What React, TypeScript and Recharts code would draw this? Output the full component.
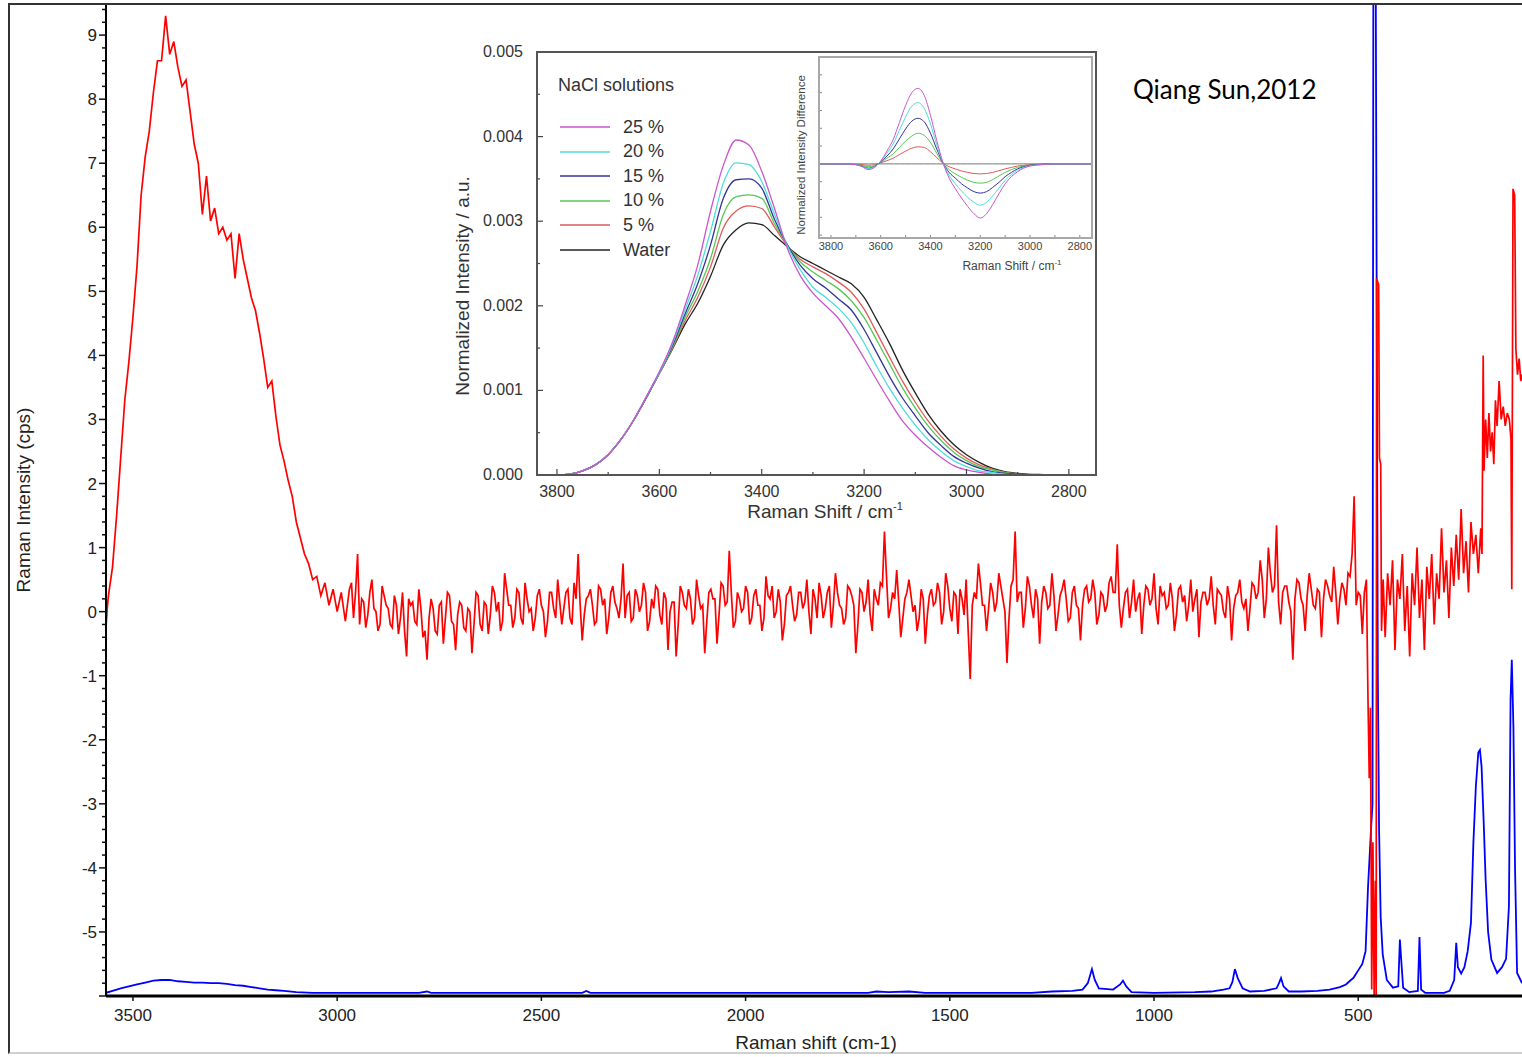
import React from 'react'
import { LineChart, Line, XAxis, YAxis, Legend, Label } from 'recharts'

const FONT = "'Liberation Sans', Arial, Helvetica, sans-serif"

// ---------------- main spectrum ----------------
// red trace, read every 10 cm-1 from 3560 down to 480
const redStart = 3560
const redStep = 10
const redValues = [
  0.25, 0.7, 1.5, 2.4, 3.3, 3.9, 4.6, 5.4, 6.5, 7.1,
  7.5, 8.1, 8.6, 8.6, 9.3, 8.7, 8.9, 8.5, 8.2, 8.3,
  7.8, 7.3, 7.0, 6.2, 6.8, 6.1, 6.3, 5.9, 6.0, 5.8,
  5.9, 5.2, 5.9, 5.5, 5.2, 4.9, 4.7, 4.35, 3.95, 3.5,
  3.6, 3.05, 2.6, 2.35, 2.05, 1.8, 1.4, 1.15, 0.9, 0.75,
  0.5, 0.55, 0.25, 0.45, 0.1, 0.35, 0.0, 0.3, -0.15,
  // 2970 .. 2880
  0.35, -0.1, 0.9, 0.2, -0.25, 0.3, 0.05, -0.3, 0.4, 0.1,
  -0.2, 0.25, -0.35, 0.3, -0.7, 0.1, -0.15, 0.35, -0.4, -0.75,
  0.2, -0.3, 0.1, -0.5, 0.3, -0.15, -0.6, 0.15, -0.25, 0.05,
  -0.65, 0.3, -0.2, 0.15, -0.35, 0.4, 0.0, -0.3, 0.6, 0.1,
  -0.25, 0.35, -0.1, 0.45, 0.0, -0.3, 0.25, 0.1, -0.4, 0.3,
  0.05, 0.5, -0.2, 0.3, -0.1, 0.45, 0.9, -0.45, 0.2, 0.35,
  -0.2, 0.4, 0.1, -0.35, 0.3, 0.15, -0.1, 0.75, 0.25, -0.15,
  0.35, 0.0, 0.45, -0.3, 0.2, 0.4, -0.05, 0.3, -0.6, 0.15,
  -0.7, 0.4, 0.1, 0.35, -0.2, 0.5, 0.05, -0.65, 0.3, 0.2,
  -0.5, 0.45, 0.1, 0.95, -0.25, 0.3, 0.0, 0.4, -0.2, 0.25,
  0.1, -0.3, 0.55, 0.2, -0.1, 0.35, -0.45, 0.25, 0.4, -0.15,
  0.3, 0.05, 0.5, -0.35, 0.2, 0.45, -0.1, 0.3, -0.25, 0.6,
  0.1, -0.2, 0.4, 0.25, -0.65, 0.35, 0.0, 0.5, -0.3, 0.2,
  0.45, 1.25, -0.1, 0.3, 0.65, -0.4, 0.2, 0.5, 0.0, -0.3,
  0.35, -0.5, 0.25, 0.1, 0.45, -0.2, 0.6, 0.05, 0.3, -0.35,
  0.2, 0.5, -1.05, 0.3, 0.75, 0.1, -0.3, 0.45, 0.0, 0.6,
  0.2, -0.8, 0.4, 1.25, 0.3, -0.25, 0.55, 0.1, 0.35, -0.5,
  0.4, 0.05, 0.6, -0.3, 0.25, 0.5, -0.15, 0.3, 0.1, -0.45,
  0.35, 0.15, 0.5, -0.2, 0.3, 0.0, 0.45, 0.3, 1.05, -0.25,
  0.3, -0.1, 0.5, 0.2, -0.35, 0.4, 0.1, 0.6, -0.2, 0.25,
  0.05, 0.45, -0.3, 0.35, 0.15, -0.15, 0.5, 0.2, -0.4, 0.3,
  0.1, 0.55, -0.2, 0.3, 0.0, 0.4, -0.45, 0.25, 0.5, 0.05,
  -0.3, 0.45, 0.2, 0.8, -0.1, 1.0, 0.3, 1.35, -0.2, 0.4,
  0.15, -0.75, 0.5, 0.2, -0.3, 0.6, 0.1, 0.35, -0.4, 0.5,
  0.25, 0.7, -0.2, 0.45, 0.1, 0.55, 1.8, 0.3, -0.35, 0.5,
]
// red trace in the flat part, read at the half steps 2975, 2965 .. 485
const redMidStart = 2975
const redMidValues = [
  0.1, 0.45, 0.3, -0.2, 0.15, -0.05, 0.5, 0.0, -0.2, 0.25,
  0.05, -0.25, 0.1, -0.1, -0.3, 0.2, 0.15, -0.2, 0.05, -0.3,
  -0.1, 0.05, -0.35, 0.15, -0.1, 0.25, -0.2, -0.05, 0.1, -0.3,
  0.0, -0.2, 0.25, -0.3, 0.1, -0.05, 0.3, 0.15, -0.15, 0.35,
  0.1, -0.1, 0.3, -0.2, 0.2, 0.05, -0.1, 0.35, 0.0, -0.15,
  0.3, -0.1, 0.15, 0.05, 0.35, -0.2, 0.2, 0.1, -0.05, 0.25,
  0.1, -0.15, 0.35, 0.2, -0.1, 0.4, 0.05, 0.2, -0.1, 0.3,
  -0.1, 0.25, 0.1, 0.3, -0.15, 0.05, 0.35, -0.2, 0.2, 0.0,
  0.15, -0.2, 0.3, 0.05, 0.2, -0.1, 0.25, 0.1, -0.15, 0.35,
  0.2, -0.05, 0.4, 0.15, 0.3, -0.15, 0.2, 0.05, 0.3, -0.1,
  0.35, 0.1, -0.1, 0.25, 0.4, 0.0, 0.15, -0.2, 0.3, 0.1,
  -0.05, 0.3, 0.15, 0.0, 0.35, -0.1, 0.25, 0.05, 0.4, 0.1,
  0.3, 0.05, -0.1, 0.35, 0.1, -0.2, 0.3, 0.15, -0.05, 0.35,
  0.1, 0.4, 0.55, 0.05, 0.2, 0.15, -0.1, 0.3, 0.25, 0.1,
  -0.1, 0.2, -0.05, 0.35, 0.15, 0.3, 0.0, 0.4, -0.15, 0.25,
  0.35, -0.05, -0.3, 0.1, 0.2, 0.45, 0.1, 0.05, 0.3, 0.15,
  0.4, 0.0, -0.1, 0.5, 0.15, 0.3, 0.05, 0.4, -0.1, 0.2,
  0.15, 0.3, 0.1, 0.25, -0.05, 0.35, 0.2, -0.1, 0.4, 0.05,
  0.1, 0.4, 0.2, 0.3, -0.05, 0.25, 0.1, 0.55, 0.3, 0.1,
  0.05, 0.35, 0.15, 0.0, 0.3, 0.1, 0.35, 0.2, 0.05, 0.4,
  0.3, 0.1, 0.2, -0.05, 0.4, 0.25, 0.1, 0.0, 0.35, 0.15,
  0.3, 0.2, 0.1, 0.35, 0.25, -0.1, 0.2, 0.05, 0.3, 0.15,
  0.2, 0.05, 0.4, 0.3, 0.5, 0.2, 0.6, 0.4, 0.15, 0.3,
  0.4, 0.0, 0.2, 0.45, 0.1, 0.25, 0.35, 0.05, 0.3, 0.2,
  0.4, 0.15, 0.3, 0.2, 0.35, 0.6, 0.9, 0.1, 0.25, 0.3,
]
const redEdge: [number, number][] = [[3566, -0.25], [3563, 0.05]]
// below 480 cm-1 the trace was read point by point
const redTail: [number, number][] = [
  [476, -1.4], [473, -2.6], [470, -1.5], [467, -5.9], [464, -3.6], [461, -6.0], [458, -4.2], [456, -6.0],
  [455, 5.2], [450, 5.1], [448, 2.4], [445, 2.3], [443, -0.3], [439, 0.5], [434, -0.4], [428, 0.6],
  [422, 0.1], [416, 0.8], [410, -0.6], [404, 0.5], [398, 0.2], [392, 0.9], [386, -0.3], [380, 0.4],
  [374, -0.7], [368, 0.6], [362, 0.1], [356, 1.0], [350, -0.1], [344, 0.5], [338, -0.6], [332, 0.7],
  [326, 0.2], [320, 0.9], [314, -0.2], [308, 0.6], [302, 0.2], [296, 1.3], [290, 0.3], [284, 0.8],
  [278, -0.1], [272, 1.0], [266, 0.4], [260, 1.2], [254, 0.5], [248, 1.6], [242, 0.6], [236, 1.1],
  [230, 0.3], [224, 1.4], [218, 0.9], [212, 1.2], [206, 0.6], [200, 1.3], [197, 0.9], [194, 4.0],
  [192, 2.2], [188, 3.0], [184, 2.4], [180, 3.1], [176, 2.5], [172, 2.8], [168, 2.3], [164, 3.3],
  [160, 2.9], [155, 3.6], [150, 3.0], [145, 3.2], [140, 2.9], [135, 3.1], [130, 3.0], [126, 2.7],
  [124, 0.35], [121, 6.6], [117, 6.5], [114, 4.1], [110, 3.7], [106, 3.95], [102, 3.6], [99, 3.7],
]

const blueTrace: [number, number][] = [
  [3566, -5.95], [3550, -5.92], [3530, -5.88], [3510, -5.85], [3490, -5.82], [3470, -5.79], [3450, -5.76],
  [3430, -5.75], [3410, -5.75], [3390, -5.77], [3370, -5.78], [3350, -5.79], [3330, -5.79], [3310, -5.8],
  [3290, -5.8], [3270, -5.81], [3250, -5.83], [3230, -5.84], [3210, -5.86], [3190, -5.88], [3170, -5.9],
  [3150, -5.91], [3130, -5.92], [3100, -5.94], [3060, -5.95], [2800, -5.95], [2780, -5.93], [2770, -5.95],
  [2400, -5.95], [2390, -5.92], [2380, -5.95], [1700, -5.95], [1680, -5.93], [1650, -5.94], [1600, -5.93],
  [1560, -5.95], [1300, -5.95], [1250, -5.93], [1200, -5.92], [1175, -5.9], [1162, -5.8], [1152, -5.58],
  [1145, -5.75], [1135, -5.88], [1100, -5.9], [1083, -5.82], [1076, -5.76], [1068, -5.85], [1055, -5.94],
  [1000, -5.95], [900, -5.94], [860, -5.93], [830, -5.9], [815, -5.88], [808, -5.78], [802, -5.58],
  [795, -5.72], [783, -5.88], [765, -5.93], [730, -5.92], [700, -5.88], [694, -5.8], [689, -5.72],
  [683, -5.85], [670, -5.93], [640, -5.93], [600, -5.92], [570, -5.9], [545, -5.86], [530, -5.82],
  [518, -5.75], [512, -5.72], [500, -5.6], [490, -5.5], [482, -5.3], [476, -4.3], [469, -3.44],
  [465, -3.0], [463, 9.6], [457, 9.6], [452, -1.0], [449, -3.38], [445, -4.77], [440, -5.35],
  [430, -5.75], [415, -5.87], [402, -5.85], [398, -5.12], [394, -5.5], [390, -5.87], [375, -5.94],
  [354, -5.92], [350, -5.08], [346, -5.9], [336, -5.95], [290, -5.95], [276, -5.92], [265, -5.75],
  [260, -5.17], [256, -5.55], [248, -5.65], [240, -5.55], [232, -5.3], [224, -4.86], [218, -3.6],
  [212, -2.73], [206, -2.2], [202, -2.16], [198, -2.42], [193, -3.25], [188, -4.19], [182, -5.0],
  [174, -5.43], [160, -5.64], [148, -5.55], [138, -5.42], [131, -4.6], [127, -1.37], [124, -0.75],
  [120, -1.8], [116, -4.03], [111, -5.64], [99, -5.8],
]

const xTicks = [3500, 3000, 2500, 2000, 1500, 1000, 500]
const yLabels = [-5, -4, -3, -2, -1, 0, 1, 2, 3, 4, 5, 6, 7, 8, 9]
// minor ticks every 0.2 from -6 to 9.4
const yTicks = Array.from({ length: 78 }, (_, i) => Math.round((-6 + i * 0.2) * 10) / 10)

// ---------------- inset: NaCl solutions ----------------
const insetShift = [
  3800, 3775, 3750, 3725, 3700, 3675, 3650, 3625, 3600, 3575, 3550, 3525, 3500, 3475, 3450, 3425, 3400,
  3375, 3350, 3325, 3300, 3275, 3250, 3225, 3200, 3175, 3150, 3125, 3100, 3075, 3050, 3025, 3000, 2975,
  2950, 2925, 2900, 2850, 2800, 2760,
]
// values in 1e-3 a.u.
const water = [
  0, 0.01, 0.05, 0.12, 0.24, 0.42, 0.65, 0.92, 1.2, 1.48, 1.78, 2.03, 2.35, 2.72, 2.9, 2.98, 2.96,
  2.83, 2.7, 2.58, 2.5, 2.42, 2.34, 2.26, 2.1, 1.83, 1.55, 1.24, 0.97, 0.72, 0.52, 0.36, 0.24, 0.15,
  0.08, 0.04, 0.02, 0.005, 0, 0,
]
const nacl5 = [
  0, 0.01, 0.05, 0.12, 0.24, 0.42, 0.65, 0.92, 1.2, 1.49, 1.82, 2.1, 2.46, 2.92, 3.12, 3.18, 3.15,
  2.93, 2.71, 2.55, 2.46, 2.38, 2.28, 2.16, 1.96, 1.68, 1.39, 1.11, 0.86, 0.64, 0.46, 0.31, 0.2, 0.12,
  0.07, 0.03, 0.01, 0, 0, 0,
]
const nacl10 = [
  0, 0.01, 0.05, 0.12, 0.24, 0.42, 0.65, 0.92, 1.2, 1.5, 1.86, 2.17, 2.56, 3.08, 3.29, 3.31, 3.27,
  2.97, 2.72, 2.52, 2.4, 2.3, 2.2, 2.06, 1.86, 1.59, 1.31, 1.03, 0.79, 0.58, 0.41, 0.27, 0.17, 0.1,
  0.06, 0.03, 0.01, 0, 0, 0,
]
const nacl15 = [
  0, 0.01, 0.05, 0.12, 0.24, 0.42, 0.65, 0.92, 1.21, 1.52, 1.9, 2.26, 2.72, 3.27, 3.49, 3.5, 3.39,
  3.02, 2.72, 2.48, 2.32, 2.21, 2.08, 1.95, 1.72, 1.44, 1.16, 0.91, 0.7, 0.5, 0.35, 0.22, 0.14, 0.08,
  0.04, 0.02, 0.01, 0, 0, 0,
]
const nacl20 = [
  0, 0.01, 0.05, 0.12, 0.24, 0.42, 0.65, 0.93, 1.21, 1.54, 1.95, 2.36, 2.88, 3.45, 3.69, 3.67, 3.47,
  3.08, 2.71, 2.43, 2.22, 2.1, 1.97, 1.8, 1.56, 1.28, 1.02, 0.79, 0.59, 0.42, 0.28, 0.17, 0.1, 0.05,
  0.03, 0.01, 0, 0, 0, 0,
]
const nacl25 = [
  0, 0.01, 0.05, 0.12, 0.24, 0.42, 0.65, 0.93, 1.22, 1.56, 2.0, 2.48, 3.12, 3.66, 3.96, 3.9, 3.59,
  3.15, 2.68, 2.36, 2.15, 2.0, 1.85, 1.63, 1.38, 1.12, 0.87, 0.64, 0.47, 0.33, 0.21, 0.11, 0.06, 0.03,
  0.01, 0, 0, 0, 0, 0,
]
const insetYTicks = [0, 0.5, 1, 1.5, 2, 2.5, 3, 3.5, 4, 4.5, 5]
const insetXTicks = [3800, 3700, 3600, 3500, 3400, 3300, 3200, 3100, 3000, 2900, 2800]

const seriesKeys = ['water', 'nacl5', 'nacl10', 'nacl15', 'nacl20', 'nacl25']
const seriesNames = ['Water', '5 %', '10 %', '15 %', '20 %', '25 %']
const seriesColors = ['#222222', '#e05a5a', '#55c855', '#34349a', '#4fdcdc', '#cc55cc']

// ---------------- nested inset: difference spectra ----------------
const diffShift = [
  3850, 3800, 3750, 3700, 3675, 3650, 3625, 3600, 3575, 3550, 3525, 3500, 3475, 3450, 3425, 3400, 3375,
  3350, 3325, 3300, 3275, 3250, 3225, 3200, 3175, 3150, 3125, 3100, 3075, 3050, 3025, 3000, 2950, 2900,
  2850, 2800, 2750,
]
// values in 1e-4 a.u.
const diffWater = diffShift.map(() => 0)
const diff5 = [
  0, 0, 0, -0.05, -0.1, -0.2, -0.1, 0.15, 0.45, 0.8, 1.3, 1.8, 2.2, 2.4, 2.3, 1.7, 0.9,
  0.1, -0.4, -0.7, -1.0, -1.2, -1.35, -1.4, -1.35, -1.2, -0.95, -0.7, -0.5, -0.3, -0.2, -0.1, -0.05, 0,
  0, 0, 0,
]
const diff10 = [
  0, 0, 0, -0.05, -0.2, -0.4, -0.25, 0.2, 0.8, 1.4, 2.3, 3.2, 3.9, 4.3, 4.0, 3.0, 1.5,
  0.1, -0.8, -1.4, -1.9, -2.3, -2.6, -2.7, -2.6, -2.2, -1.7, -1.2, -0.8, -0.5, -0.3, -0.15, -0.05, 0,
  0, 0, 0,
]
const diff15 = [
  0, 0, 0, -0.1, -0.3, -0.6, -0.35, 0.3, 1.1, 2.1, 3.5, 4.9, 6.0, 6.4, 5.9, 4.3, 2.1,
  0.15, -1.2, -2.0, -2.8, -3.4, -3.9, -4.1, -3.9, -3.3, -2.6, -1.8, -1.2, -0.7, -0.4, -0.2, -0.05, 0,
  0, 0, 0,
]
const diff20 = [
  0, 0, 0, -0.1, -0.35, -0.7, -0.4, 0.35, 1.5, 2.8, 4.7, 6.6, 8.1, 8.6, 7.8, 5.6, 2.7,
  0.2, -1.6, -2.8, -3.8, -4.7, -5.4, -5.8, -5.4, -4.5, -3.4, -2.3, -1.5, -0.9, -0.5, -0.25, -0.1, 0,
  0, 0, 0,
]
const diff25 = [
  0, 0, 0, -0.1, -0.4, -0.8, -0.5, 0.4, 1.8, 3.4, 5.8, 8.2, 10.0, 10.6, 9.6, 6.8, 3.3,
  0.2, -2.0, -3.5, -4.8, -6.0, -7.0, -7.6, -7.0, -5.7, -4.2, -2.8, -1.8, -1.1, -0.6, -0.3, -0.1, 0,
  0, 0, 0,
]
const diffXTicks = [3800, 3700, 3600, 3500, 3400, 3300, 3200, 3100, 3000, 2900, 2800]
const diffYTicks = [-10, -7.5, -5, -2.5, 0, 2.5, 5, 7.5, 10, 12.5]

// ---------------- build tables ----------------
const redData = [
  ...redEdge.map(([x, y]) => ({ x, y })),
  ...redValues.map((y, i) => ({ x: redStart - i * redStep, y })),
  ...redMidValues.map((y, i) => ({ x: redMidStart - i * redStep, y })),
  ...redTail.map(([x, y]) => ({ x, y })),
].sort((a, b) => b.x - a.x)
const blueData = blueTrace.map(([x, y]) => ({ x, y }))

const insetSeries: Record<string, number[]> = { water, nacl5, nacl10, nacl15, nacl20, nacl25 }
const insetData = insetShift.map((x, i) => {
  const row: Record<string, number> = { x }
  seriesKeys.forEach(k => { row[k] = insetSeries[k][i] })
  return row
})
const diffSeries: Record<string, number[]> = {
  water: diffWater, nacl5: diff5, nacl10: diff10, nacl15: diff15, nacl20: diff20, nacl25: diff25,
}
const diffData = diffShift.map((x, i) => {
  const row: Record<string, number> = { x }
  seriesKeys.forEach(k => { row[k] = diffSeries[k][i] })
  return row
})

// ---------------- tick renderers ----------------
const MainYTick = ({ x, y, payload }: any) => {
  const v = payload.value as number
  const major = Math.abs(v - Math.round(v)) < 1e-6
  return (
    <g>
      <line x1={x} x2={x - (major ? 7 : 4)} y1={y} y2={y} stroke="#111" strokeWidth={1.5} />
      {major && yLabels.includes(Math.round(v)) && (
        <text x={x - 9} y={y} dy={6} textAnchor="end" fontSize={17} fill="#222" fontFamily={FONT}>
          {Math.round(v)}
        </text>
      )}
    </g>
  )
}

const InsetYTick = ({ x, y, payload }: any) => {
  const v = payload.value as number
  const major = Math.abs(v - Math.round(v)) < 1e-6
  return (
    <g>
      <line x1={x} x2={x + (major ? 6 : 3)} y1={y} y2={y} stroke="#444" strokeWidth={1.2} />
      {major && (
        <text x={x - 14} y={y} dy={5} textAnchor="end" fontSize={16} fill="#333" fontFamily={FONT}>
          {(v / 1000).toFixed(3)}
        </text>
      )}
    </g>
  )
}

const InsetXTick = ({ x, y, payload }: any) => {
  const v = payload.value as number
  const major = v % 200 === 0
  return (
    <g>
      <line x1={x} x2={x} y1={y} y2={y - (major ? 6 : 3)} stroke="#444" strokeWidth={1.2} />
      {major && (
        <text x={x} y={y + 22} textAnchor="middle" fontSize={16} fill="#333" fontFamily={FONT}>
          {v}
        </text>
      )}
    </g>
  )
}

const DiffXTick = ({ x, y, payload }: any) => {
  const v = payload.value as number
  const major = v % 200 === 0
  return (
    <g>
      <line x1={x} x2={x} y1={y} y2={y - 3} stroke="#888" strokeWidth={1} />
      {major && (
        <text x={x} y={y + 12} textAnchor="middle" fontSize={11} fill="#444" fontFamily={FONT}>
          {v}
        </text>
      )}
    </g>
  )
}

const DiffYTick = ({ x, y }: any) => (
  <line x1={x} x2={x + 3} y1={y} y2={y} stroke="#888" strokeWidth={1} />
)

const InsetLegend = () => {
  const order = [5, 4, 3, 2, 1, 0]
  return (
    <div style={{ position: 'relative', width: 180, height: 200, fontFamily: FONT, color: '#333' }}>
      <div style={{ position: 'absolute', left: 0, top: 0, fontSize: 18, lineHeight: '26px', whiteSpace: 'nowrap' }}>
        NaCl solutions
      </div>
      {order.map((s, i) => (
        <div
          key={seriesKeys[s]}
          style={{ position: 'absolute', left: 0, top: 43 + i * 24.6, height: 24, display: 'flex', alignItems: 'center', fontSize: 18, whiteSpace: 'nowrap' }}
        >
          <svg width={54} height={24}>
            <line x1={2} x2={52} y1={12} y2={12} stroke={seriesColors[s]} strokeWidth={1.4} />
          </svg>
          <span style={{ marginLeft: 11 }}>{seriesNames[s]}</span>
        </div>
      ))}
    </div>
  )
}

export default function App() {
  return (
    <div style={{ position: 'absolute', left: 0, top: 0, width: 1522, height: 1057, overflow: 'hidden', background: '#fff' }}>
      {/* outer frame */}
      <div
        style={{
          position: 'absolute', left: 8, top: 3, width: 1530, height: 1051, boxSizing: 'border-box',
          borderLeft: '2px solid #333', borderTop: '2px solid #333', borderBottom: '2px solid #cfcfcf',
        }}
      />

      {/* main spectrum */}
      <div style={{ position: 'absolute', left: 0, top: 0 }}>
        <LineChart width={1522} height={1057} margin={{ top: 5, right: 0, bottom: 21, left: 46 }}>
          <XAxis
            type="number"
            dataKey="x"
            domain={[99, 3566]}
            reversed
            allowDataOverflow
            ticks={xTicks}
            interval={0}
            height={40}
            tickSize={5}
            tickMargin={8}
            tick={{ fontSize: 17, fill: '#222', fontFamily: FONT }}
            tickLine={{ stroke: '#111', strokeWidth: 1.5 }}
            axisLine={{ stroke: '#000', strokeWidth: 3 }}
          >
            <Label
              content={() => (
                <text x={816} y={1049} textAnchor="middle" fontSize={19} fill="#222" fontFamily={FONT}>
                  Raman shift (cm-1)
                </text>
              )}
            />
          </XAxis>
          <YAxis
            type="number"
            domain={[-6, 9.47]}
            allowDataOverflow
            ticks={yTicks}
            interval={0}
            width={60}
            tickSize={0}
            tickMargin={0}
            tickLine={false}
            tick={<MainYTick />}
            axisLine={{ stroke: '#000', strokeWidth: 2 }}
          >
            <Label
              content={() => (
                <text
                  x={23}
                  y={500}
                  transform="rotate(-90, 23, 500)"
                  textAnchor="middle"
                  dominantBaseline="central"
                  fontSize={19}
                  fill="#222"
                  fontFamily={FONT}
                >
                  Raman Intensity (cps)
                </text>
              )}
            />
          </YAxis>
          <Line data={blueData} dataKey="y" type="linear" stroke="#0000ff" strokeWidth={1.8} dot={false} isAnimationActive={false} />
          <Line data={redData} dataKey="y" type="linear" stroke="#ff0000" strokeWidth={1.7} dot={false} isAnimationActive={false} />
        </LineChart>
      </div>

      <div
        style={{
          position: 'absolute', left: 1133, top: 74, fontFamily: "Lato, 'Liberation Sans', sans-serif",
          fontSize: 26, lineHeight: '30px', color: '#000', whiteSpace: 'nowrap',
        }}
      >
        Qiang Sun,2012
      </div>

      {/* inset */}
      <div style={{ position: 'absolute', left: 440, top: 30 }}>
        <LineChart width={670} height={510} data={insetData} margin={{ top: 22, right: 14, bottom: 25, left: 42 }}>
          <XAxis
            type="number"
            dataKey="x"
            domain={[2747, 3839]}
            reversed
            allowDataOverflow
            ticks={insetXTicks}
            interval={0}
            height={40}
            tickSize={0}
            tickMargin={0}
            tickLine={false}
            axisLine={false}
            tick={<InsetXTick />}
          >
            <Label
              content={() => (
                <text x={385} y={488} textAnchor="middle" fontSize={19} fill="#333" fontFamily={FONT}>
                  Raman Shift / cm
                  <tspan dy={-8} fontSize={11}>-1</tspan>
                </text>
              )}
            />
          </XAxis>
          <YAxis
            type="number"
            domain={[0, 5]}
            allowDataOverflow
            ticks={insetYTicks}
            interval={0}
            width={55}
            tickSize={0}
            tickMargin={0}
            tickLine={false}
            axisLine={false}
            tick={<InsetYTick />}
          >
            <Label
              content={() => (
                <text
                  x={22}
                  y={256}
                  transform="rotate(-90, 22, 256)"
                  textAnchor="middle"
                  dominantBaseline="central"
                  fontSize={19}
                  fill="#333"
                  fontFamily={FONT}
                >
                  Normalized Intensity / a.u.
                </text>
              )}
            />
          </YAxis>
          <Legend
            layout="vertical"
            align="center"
            verticalAlign="middle"
            wrapperStyle={{ left: 118, top: 42, width: 180, height: 200 }}
            content={() => <InsetLegend />}
          />
          {seriesKeys.map((k, i) => (
            <Line
              key={k}
              dataKey={k}
              name={seriesNames[i]}
              type="monotone"
              stroke={seriesColors[i]}
              strokeWidth={1.3}
              dot={false}
              isAnimationActive={false}
            />
          ))}
        </LineChart>
      </div>
      <div
        style={{
          position: 'absolute', left: 536, top: 51, width: 561, height: 425, boxSizing: 'border-box',
          border: '2px solid #555', pointerEvents: 'none',
        }}
      />

      {/* nested inset */}
      <div style={{ position: 'absolute', left: 790, top: 50 }}>
        <LineChart width={310} height={230} data={diffData} margin={{ top: 7, right: 9, bottom: 12, left: 15 }}>
          <XAxis
            type="number"
            dataKey="x"
            domain={[2755, 3848]}
            reversed
            allowDataOverflow
            ticks={diffXTicks}
            interval={0}
            height={30}
            tickSize={0}
            tickMargin={0}
            tickLine={false}
            axisLine={false}
            tick={<DiffXTick />}
          >
            <Label
              content={() => (
                <text x={222} y={220} textAnchor="middle" fontSize={12} fill="#444" fontFamily={FONT}>
                  Raman Shift / cm
                  <tspan dy={-5} fontSize={8}>-1</tspan>
                </text>
              )}
            />
          </XAxis>
          <YAxis
            type="number"
            domain={[-10.4, 15]}
            allowDataOverflow
            ticks={diffYTicks}
            interval={0}
            width={14}
            tickSize={0}
            tickMargin={0}
            tickLine={false}
            axisLine={false}
            tick={<DiffYTick />}
          >
            <Label
              content={() => (
                <text
                  x={11}
                  y={105}
                  transform="rotate(-90, 11, 105)"
                  textAnchor="middle"
                  dominantBaseline="central"
                  fontSize={11.5}
                  fill="#444"
                  fontFamily={FONT}
                >
                  Normalized Intensity Difference
                </text>
              )}
            />
          </YAxis>
          {seriesKeys.map((k, i) => (
            <Line
              key={k}
              dataKey={k}
              name={seriesNames[i]}
              type="monotone"
              stroke={i === 0 ? '#777777' : seriesColors[i]}
              strokeWidth={1}
              dot={false}
              isAnimationActive={false}
            />
          ))}
        </LineChart>
      </div>
      <div
        style={{
          position: 'absolute', left: 818, top: 56, width: 275, height: 183, boxSizing: 'border-box',
          border: '2px solid #a8a8a8', pointerEvents: 'none',
        }}
      />
    </div>
  )
}
